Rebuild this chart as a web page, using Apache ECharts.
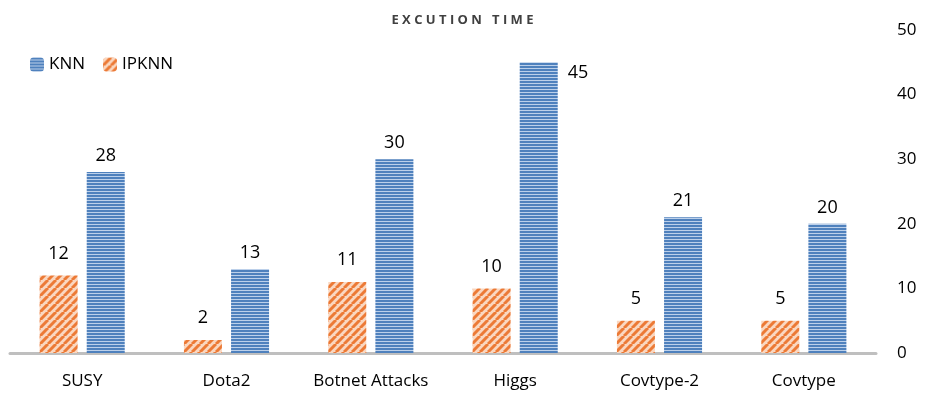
<!DOCTYPE html>
<html lang="en">
<head>
    <meta charset="UTF-8">
    <title>Excution time</title>
    <style>
        *{margin:0;padding:0;}
        .main{width:925px;height:399px;background:#fff;}
    </style>
    <script src="https://cdn.jsdelivr.net/npm/echarts@6/dist/echarts.min.js"></script>
</head>
<body>
<div class="main"></div>
<script>
    let categories = ['SUSY', 'Dota2', 'Botnet Attacks', 'Higgs', 'Covtype-2', 'Covtype'];
    let ipknn = [12, 2, 11, 10, 5, 5];
    let knn = [28, 13, 30, 45, 21, 20];

    // striped fills like the office chart patterns
    function hStripes(){
        let c = document.createElement('canvas');
        c.width = 4; c.height = 3;
        let g = c.getContext('2d');
        g.fillStyle = '#bcd0ea';
        g.fillRect(0, 0, 4, 3);
        g.fillStyle = '#4f81bd';
        g.fillRect(0, 0, 4, 2);
        return c;
    }
    function dStripes(){
        let c = document.createElement('canvas');
        c.width = 8; c.height = 8;
        let g = c.getContext('2d');
        g.fillStyle = '#fad7c0';
        g.fillRect(0, 0, 8, 8);
        g.strokeStyle = '#ec7a36';
        g.lineWidth = 3;
        for (let k = -8; k <= 16; k += 8){
            g.beginPath();
            g.moveTo(k, 8);
            g.lineTo(k + 8, 0);
            g.stroke();
        }
        return c;
    }

    let char = echarts.init(document.querySelector('.main'));
    let font = '"Open Sans", "Noto Sans", sans-serif';

    let knnData = knn.map((v, i) => {
        if (i == 3) {
            return {value: v, label: {position: [48, 2], align: 'left', verticalAlign: 'top'}};
        }
        return v;
    });

    let option = {
        textStyle: {fontFamily: font},
        title: {
            text: 'E X C U T I O N   T I M E',
            left: 'center',
            top: 9,
            textStyle: {fontSize: 13, fontWeight: 'bold', color: '#404040', fontFamily: font}
        },
        legend: {
            data: ['KNN', 'IPKNN'],
            left: 25,
            top: 51,
            itemWidth: 14,
            itemHeight: 14,
            itemGap: 18,
            textStyle: {fontSize: 17, color: '#000', fontFamily: font}
        },
        grid: {left: 10, right: 49, top: 30, bottom: 46},
        xAxis: {
            type: 'category',
            data: categories,
            axisLine: {lineStyle: {color: '#bfbfbf', width: 3}},
            axisTick: {show: false},
            axisLabel: {fontSize: 17, color: '#000', margin: 20, interval: 0}
        },
        yAxis: {
            type: 'value',
            position: 'right',
            min: 0,
            max: 50,
            interval: 10,
            splitLine: {show: false},
            axisLine: {show: false},
            axisTick: {show: false},
            axisLabel: {fontSize: 17, color: '#000', margin: 21, align: 'left'}
        },
        series: [
            {
                name: 'IPKNN',
                type: 'bar',
                data: ipknn,
                barWidth: 38,
                barGap: '24%',
                itemStyle: {color: {image: dStripes(), repeat: 'repeat'}},
                label: {show: true, position: 'top', distance: 13, fontSize: 18, color: '#000'}
            },
            {
                name: 'KNN',
                type: 'bar',
                data: knnData,
                barWidth: 38,
                itemStyle: {color: {image: hStripes(), repeat: 'repeat'}},
                label: {show: true, position: 'top', distance: 7, fontSize: 18, color: '#000'}
            }
        ]
    };
    char.setOption(option);
</script>
</body>
</html>
